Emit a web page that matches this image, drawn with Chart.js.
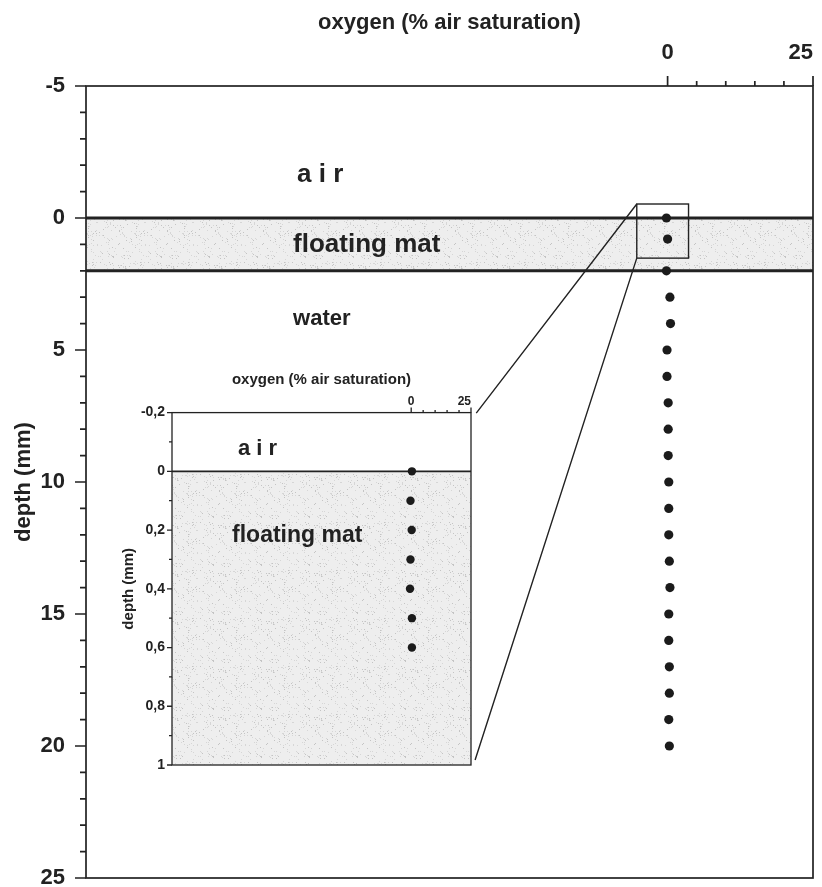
<!DOCTYPE html>
<html>
<head>
<meta charset="utf-8">
<script src="https://cdn.jsdelivr.net/npm/chart.js@4"></script>
<style>
  body { margin: 0; background: #fff; }
  #wrap { position: relative; width: 822px; height: 887px; }
  #insetChart { position: absolute; left: 100px; top: 356px; }
</style>
</head>
<body>
<div id="wrap">
  <canvas id="mainChart" width="822" height="887"></canvas>
  <canvas id="insetChart" width="380" height="420"></canvas>
</div>
<script>
// whole profile: depth (mm) vs oxygen (% air saturation)
const depth = [0, 0.8, 2, 3, 4, 5, 6, 7, 8, 9, 10, 11, 12, 13, 14, 15, 16, 17, 18, 19, 20];
const oxygen = [-0.2, 0, -0.2, 0.4, 0.5, -0.1, -0.1, 0.1, 0.1, 0.1, 0.2, 0.2, 0.2, 0.3, 0.4, 0.2, 0.2, 0.3, 0.3, 0.2, 0.3];

// zoom of the top of the floating mat
const insetDepth = [0, 0.1, 0.2, 0.3, 0.4, 0.5, 0.6];
const insetOxygen = [0.3, -0.3, 0.2, -0.3, -0.5, 0.3, 0.3];

const depthTicks = [-5, 0, 5, 10, 15, 20, 25];
const oxygenTicks = [0, 25];
const insetDepthTicks = [-0.2, 0, 0.2, 0.4, 0.6, 0.8, 1];
const insetOxygenTicks = [0, 25];

// floating mat layer (mm)
const matTop = 0;
const matBottom = 2;

const FONT = "'Liberation Sans', Arial, sans-serif";
const INK = '#222';
Chart.defaults.font.family = FONT;
Chart.defaults.color = INK;

function makeStipple() {
  const c = document.createElement('canvas');
  c.width = c.height = 48;
  const g = c.getContext('2d');
  g.fillStyle = '#eeeeee';
  g.fillRect(0, 0, 48, 48);
  let s = 11;
  for (let i = 0; i < 160; i++) {
    s = (s * 16807) % 2147483647;
    const x = s % 48;
    s = (s * 16807) % 2147483647;
    const y = s % 48;
    g.fillStyle = i % 3 ? '#d6d6d6' : '#c4c4c4';
    g.fillRect(x, y, 1, 1);
  }
  return g.createPattern(c, 'repeat');
}
const stipple = makeStipple();

// fixed axis box, no extra room for overhanging labels
function fixBox(size) {
  return s => {
    if (s.axis === 'x') s.height = size; else s.width = size;
    s.paddingLeft = s.paddingRight = s.paddingTop = s.paddingBottom = 0;
  };
}

// x ticks: a blank one at the left end so only the last label gets right-aligned
function oxyTicks(list) {
  return s => { s.ticks = [{value: s.min}].concat(list.map(v => ({value: v}))); };
}
function oxyLabel(list) {
  return v => (list.includes(v) ? String(v) : '');
}

function axisTicks(chart, id, majors, start, step, majorLen, minorLen) {
  const s = chart.scales[id], a = chart.chartArea, ctx = chart.ctx;
  ctx.beginPath();
  for (let i = 0; start + i * step <= s.max + 1e-9; i++) {
    const v = start + i * step;
    const len = majors.some(m => Math.abs(m - v) < 1e-9) ? majorLen : minorLen;
    const p = s.getPixelForValue(v);
    if (s.axis === 'x') { ctx.moveTo(p, a.top); ctx.lineTo(p, a.top - len); }
    else { ctx.moveTo(a.left, p); ctx.lineTo(a.left - len, p); }
  }
  ctx.stroke();
}

function label(ctx, text, x, y, size) {
  ctx.font = 'bold ' + size + 'px ' + FONT;
  ctx.fillStyle = INK;
  ctx.textAlign = 'left';
  ctx.textBaseline = 'alphabetic';
  ctx.fillText(text, x, y);
}

const mainDecor = {
  id: 'mainDecor',
  beforeDatasetsDraw(chart) {
    const {ctx, chartArea: a, scales: {x, y}} = chart;
    ctx.save();
    const y0 = y.getPixelForValue(matTop), y1 = y.getPixelForValue(matBottom);
    ctx.fillStyle = stipple;
    ctx.fillRect(a.left, y0, a.right - a.left, y1 - y0);
    ctx.strokeStyle = INK;
    ctx.lineWidth = 3;
    ctx.beginPath();
    ctx.moveTo(a.left, y0); ctx.lineTo(a.right, y0);
    ctx.moveTo(a.left, y1); ctx.lineTo(a.right, y1);
    ctx.stroke();
    ctx.lineWidth = 1.7;
    ctx.strokeRect(a.left, a.top, a.right - a.left, a.bottom - a.top);
    axisTicks(chart, 'x', oxygenTicks, 0, 5, 10, 5);
    axisTicks(chart, 'y', depthTicks, -5, 1, 11, 6);
    ctx.restore();
  },
  afterDatasetsDraw(chart) {
    const {ctx, scales: {x, y}} = chart;
    ctx.save();
    label(ctx, 'a i r', x.getPixelForValue(-63.7), y.getPixelForValue(-1.37), 26);
    label(ctx, 'floating mat', x.getPixelForValue(-64.4), y.getPixelForValue(1.28), 26);
    label(ctx, 'water', x.getPixelForValue(-64.4), y.getPixelForValue(4.05), 22);
    // zoom box and connectors to the inset
    const bl = x.getPixelForValue(-5.3), br = x.getPixelForValue(3.6);
    const bt = y.getPixelForValue(-0.53), bb = y.getPixelForValue(1.52);
    ctx.strokeStyle = INK;
    ctx.lineWidth = 1.4;
    ctx.strokeRect(bl, bt, br - bl, bb - bt);
    ctx.beginPath();
    ctx.moveTo(bl, bt); ctx.lineTo(x.getPixelForValue(-32.9), y.getPixelForValue(7.39));
    ctx.moveTo(bl, bb); ctx.lineTo(x.getPixelForValue(-33.1), y.getPixelForValue(20.53));
    ctx.stroke();
    ctx.restore();
  }
};

new Chart(document.getElementById('mainChart'), {
  type: 'scatter',
  data: {
    datasets: [{
      data: depth.map((d, i) => ({x: oxygen[i], y: d})),
      pointRadius: 4.6,
      pointBackgroundColor: '#1b1b1b',
      pointBorderWidth: 0
    }]
  },
  options: {
    responsive: false,
    animation: false,
    layout: { padding: { right: 9, bottom: 9 } },
    plugins: { legend: { display: false }, tooltip: { enabled: false } },
    scales: {
      x: {
        type: 'linear', position: 'top', min: -100, max: 25,
        afterBuildTicks: oxyTicks(oxygenTicks),
        afterFit: fixBox(86),
        grid: { display: false, drawTicks: false },
        border: { display: false },
        ticks: {
          padding: 20, maxRotation: 0, autoSkip: false, align: 'inner',
          font: { size: 22, weight: 'bold' }, callback: oxyLabel(oxygenTicks)
        },
        title: { display: true, text: 'oxygen (% air saturation)', font: { size: 22, weight: 'bold' }, padding: { top: 10, bottom: 0 } }
      },
      y: {
        type: 'linear', reverse: true, min: -5, max: 25,
        afterBuildTicks: s => { s.ticks = depthTicks.map(v => ({value: v})); },
        afterFit: fixBox(86),
        grid: { display: false, drawTicks: false },
        border: { display: false },
        ticks: { padding: 21, autoSkip: false, font: { size: 22, weight: 'bold' } },
        title: { display: true, text: 'depth (mm)', font: { size: 22, weight: 'bold' }, padding: { top: 11, bottom: 0 } }
      }
    }
  },
  plugins: [mainDecor]
});

const insetDecor = {
  id: 'insetDecor',
  beforeDatasetsDraw(chart) {
    const {ctx, chartArea: a, scales: {x, y}} = chart;
    ctx.save();
    ctx.fillStyle = '#fff';
    ctx.fillRect(a.left, a.top, a.right - a.left, a.bottom - a.top);
    const y0 = y.getPixelForValue(0);
    ctx.fillStyle = stipple;
    ctx.fillRect(a.left, y0, a.right - a.left, a.bottom - y0);
    ctx.strokeStyle = INK;
    ctx.lineWidth = 1.6;
    ctx.beginPath();
    ctx.moveTo(a.left, y0); ctx.lineTo(a.right, y0);
    ctx.stroke();
    ctx.lineWidth = 1.3;
    ctx.strokeRect(a.left, a.top, a.right - a.left, a.bottom - a.top);
    axisTicks(chart, 'x', insetOxygenTicks, 0, 5, 5, 2.5);
    axisTicks(chart, 'y', insetDepthTicks, -0.2, 0.1, 5, 3);
    label(ctx, 'a i r', x.getPixelForValue(-72.4), y.getPixelForValue(-0.056), 22);
    label(ctx, 'floating mat', x.getPixelForValue(-74.9), y.getPixelForValue(0.24), 23);
    ctx.restore();
  }
};

new Chart(document.getElementById('insetChart'), {
  type: 'scatter',
  data: {
    datasets: [{
      data: insetDepth.map((d, i) => ({x: insetOxygen[i], y: d})),
      pointRadius: 4.2,
      pointBackgroundColor: '#1b1b1b',
      pointBorderWidth: 0
    }]
  },
  options: {
    responsive: false,
    animation: false,
    layout: { padding: { right: 9, bottom: 11 } },
    plugins: { legend: { display: false }, tooltip: { enabled: false } },
    scales: {
      x: {
        type: 'linear', position: 'top', min: -100, max: 25,
        afterBuildTicks: oxyTicks(insetOxygenTicks),
        afterFit: fixBox(56.6),
        grid: { display: false, drawTicks: false },
        border: { display: false },
        ticks: {
          padding: 4, maxRotation: 0, autoSkip: false, align: 'inner',
          font: { size: 12, weight: 'bold' }, callback: oxyLabel(insetOxygenTicks)
        },
        title: { display: true, text: 'oxygen (% air saturation)', font: { size: 15, weight: 'bold' }, padding: { top: 15, bottom: 0 } }
      },
      y: {
        type: 'linear', reverse: true, min: -0.2, max: 1,
        afterBuildTicks: s => { s.ticks = insetDepthTicks.map(v => ({value: v})); },
        afterFit: fixBox(72),
        grid: { display: false, drawTicks: false },
        border: { display: false },
        ticks: {
          padding: 7, autoSkip: false, font: { size: 14, weight: 'bold' },
          callback: v => String(Math.round(v * 10) / 10).replace('.', ',')
        },
        title: { display: true, text: 'depth (mm)', font: { size: 15, weight: 'bold' }, padding: { top: 20, bottom: 0 } }
      }
    }
  },
  plugins: [insetDecor]
});
</script>
</body>
</html>
